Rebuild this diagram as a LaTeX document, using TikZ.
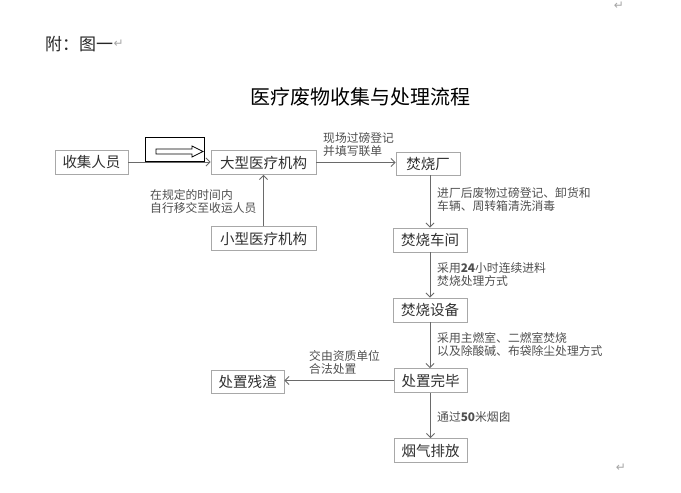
\documentclass[tikz,border=0pt]{standalone}
\usepackage{fontspec}
\newfontfamily\cjk{Noto Sans CJK SC}
\newfontfamily\sym{DejaVu Sans}
\usetikzlibrary{arrows.meta}
\definecolor{boxline}{HTML}{A8A8A8}
\definecolor{boxtext}{HTML}{303030}
\definecolor{labtext}{HTML}{505050}
\definecolor{arrowc}{HTML}{6A6A6A}
\tikzset{
  box/.style={draw=boxline, line width=0.9pt, text=boxtext, font=\cjk\fontsize{14.5}{16}\selectfont, inner sep=0pt, minimum height=24pt},
  lab/.style={text=labtext, font=\cjk\fontsize{11.8}{13.5}\selectfont, align=left, inner sep=0pt},
  conn/.style={draw=arrowc, line width=0.8pt, -{Straight Barb[length=4pt,width=8pt]}},
  pmark/.style={text=gray!70, font=\sym\fontsize{12}{12}\selectfont, inner sep=0pt}
}
\begin{document}
\begin{tikzpicture}[x=1pt,y=-1pt]
\useasboundingbox (0,0) rectangle (681,493);
\fill[white] (0,0) rectangle (681,493);
% header texts
\node[anchor=west, inner sep=0pt, font=\cjk\fontsize{17}{18}\selectfont, text=black!85] (fu) at (45,44) {附：图一};
\node[pmark, anchor=west] (m1) at (fu.east) {↵};
\node[pmark] (m0) at (619,6) {↵};
\node[pmark] (m2) at (621,468) {↵};
\node[inner sep=0pt, font=\cjk\fontsize{20}{22}\selectfont, text=black] (title) at (360,97) {医疗废物收集与处理流程};
% boxes
\node[box, minimum width=73pt] (shouji) at (91.5,162) {收集人员};
\node[box, minimum width=105pt] (dax) at (263.5,162.5) {大型医疗机构};
\node[box, minimum width=105pt] (xiao) at (263.5,238.5) {小型医疗机构};
\node[box, minimum width=64pt, minimum height=23pt] (chang) at (428,163.5) {焚烧厂};
\node[box, minimum width=74pt] (chejian) at (430,240) {焚烧车间};
\node[box, minimum width=74pt] (shebei) at (430,310) {焚烧设备};
\node[box, minimum width=73pt] (wanbi) at (430.5,380.5) {处置完毕};
\node[box, minimum width=73pt] (paifang) at (430.5,450.5) {烟气排放};
\node[box, minimum width=73pt, minimum height=23pt] (canzha) at (247.5,381.5) {处置残渣};
% hollow arrow box
\node[draw=black, line width=0.9pt, minimum width=59pt, minimum height=24pt, inner sep=0pt] (hbox) at (174.5,149.5) {};
\draw[black, line width=0.7pt] (156,149) -- (192,149) -- (192,146) -- (203,151.5) -- (192,157) -- (192,154) -- (156,154) -- cycle;
% connectors
\draw[conn] (shouji.east) -- (dax.west |- shouji.east);
\draw[conn] (xiao.north) -- (dax.south);
\draw[conn] (dax.east) -- (chang.west |- dax.east);
\draw[conn] (chang.south -| chejian.north) -- (chejian.north);
\draw[conn] (chejian.south) -- (shebei.north);
\draw[conn] (shebei.south) -- (wanbi.north -| shebei.south);
\draw[conn] (wanbi.west) -- (canzha.east |- wanbi.west);
\draw[conn] (wanbi.south -| paifang.north) -- (paifang.north);
% labels
\node[lab, anchor=north west] (l1) at (150,189) {在规定的时间内\\自行移交至收运人员};
\node[lab, anchor=north west] (l2) at (323,132) {现场过磅登记\\并填写联单};
\node[lab, anchor=north west] (l3) at (437,187) {进厂后废物过磅登记、卸货和\\车辆、周转箱清洗消毒};
\node[lab, anchor=north west] (l4) at (437,262) {采用\textbf{24}小时连续进料\\焚烧处理方式};
\node[lab, anchor=north west] (l5) at (437,332) {采用主燃室、二燃室焚烧\\以及除酸碱、布袋除尘处理方式};
\node[lab, anchor=north west] (l6) at (309,350) {交由资质单位\\合法处置};
\node[lab, anchor=north west] (l7) at (437,411) {通过\textbf{50}米烟囱};
\end{tikzpicture}
\end{document}
